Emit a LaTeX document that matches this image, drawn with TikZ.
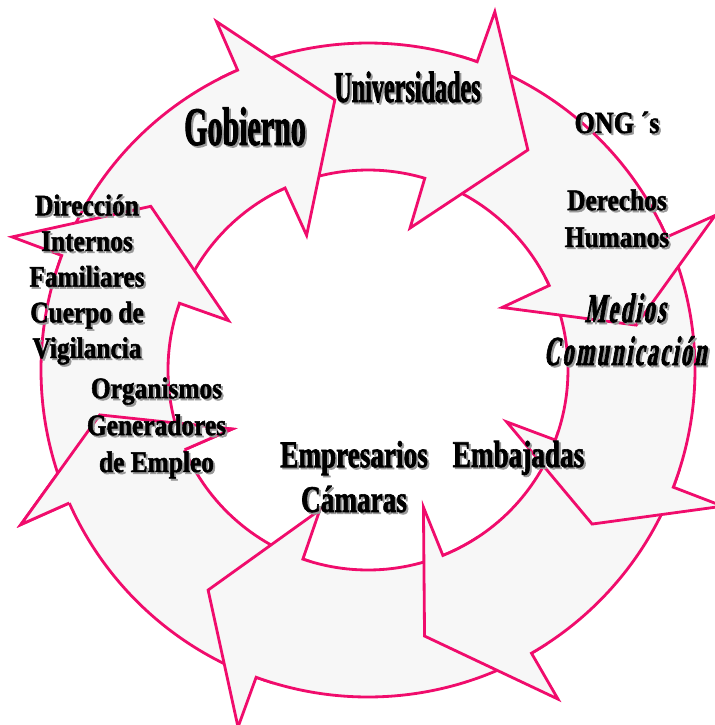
\documentclass[tikz,border=0pt]{standalone}
\usepackage{fontspec}
\setmainfont{Liberation Serif}
\newfontfamily\narrowface[FakeStretch=0.55, BoldFeatures={FakeBold=1.6}]{Liberation Serif}
\newfontfamily\midface[FakeStretch=0.72, BoldFeatures={FakeBold=1.6}]{Liberation Serif}
\newfontfamily\slantface[FakeStretch=0.53, FakeSlant=0.18, LetterSpace=6, BoldFeatures={FakeBold=1.6}]{Liberation Serif}
\newfontfamily\plainface[FakeStretch=0.85, BoldFeatures={FakeBold=1.6}]{Liberation Serif}
\usepackage{tikz}

\definecolor{ringpink}{RGB}{240,12,108}
\definecolor{ringfill}{RGB}{247,247,247}
\def\ringarrow(#1:#2:#3:#4){\draw[line width=1.6pt, draw=ringpink, fill=ringfill] (#1:327) arc[start angle=#1, end angle=#2, radius=327] -- (#2:380) -- (#4:272) -- (#3:148) -- (#3:200) arc[start angle=#3, end angle=#1, radius=200] -- cycle;}
\newcommand{\ringlabel}[4]{\node[font=#3, text=black!40, align=center, anchor=base, inner sep=0pt, xshift=1.1pt, yshift=-1.1pt] at (#2) {#4};
	\node[font=#3, align=center, anchor=base, inner sep=0pt] (#1) at (#2) {#4};}

\begin{document}
\begin{tikzpicture}[x=0.02cm, y=0.02cm]
			%%%%% START %%%%%
			\useasboundingbox (-368, -355) rectangle (347, 370);
			
			% ring, tail angle : outer base : inner base : tip
			\ringarrow(-107:-156:-156.5:-170.5)
			\ringarrow(-57:-110:-109:-126)
			\ringarrow(-18:-60:-68:-78)
			\ringarrow(27:-21:-20.5:-34.5)
			\ringarrow(73.5:24:25:9.5)
			\ringarrow(116.5:70.5:73.5:54)
			\ringarrow(162.5:113.5:114.5:97)
			\ringarrow(200:159.5:160.5:143)
			
			% last head on top of the first tail
			\fill[ringfill] (-156:327) -- (-156:380) -- (-170.5:272) -- (-156.5:148) -- (-156.5:200) -- cycle;
			\draw[line width=1.6pt, ringpink] (-156:327) -- (-156:380) -- (-170.5:272) -- (-156.5:148) -- (-156.5:200);
			
			% labels (base = last line)
			\ringlabel{gob}{-123, 225}{\fontsize{31}{31}\selectfont\bfseries\narrowface}{Gobierno}
			\ringlabel{univ}{39.5, 268}{\fontsize{25}{25}\selectfont\bfseries\narrowface}{Universidades}
			\ringlabel{ong}{249, 237}{\fontsize{17.5}{21}\selectfont\bfseries\plainface}{ONG ´s}
			\ringlabel{ddhh}{249, 123}{\fontsize{17}{21}\selectfont\bfseries\plainface}{Derechos\\Humanos}
			\ringlabel{medios}{257, 5}{\fontsize{23.5}{24.4}\selectfont\bfseries\slantface}{Medios\\Comunicación}
			\ringlabel{emb}{150.5, -97}{\fontsize{21.5}{25.5}\selectfont\bfseries\midface}{Embajadas}
			\ringlabel{emp}{-14, -142}{\fontsize{21.5}{25.5}\selectfont\bfseries\midface}{Empresarios\\Cámaras}
			\ringlabel{dir}{-281, 12}{\fontsize{17}{20.3}\selectfont\bfseries\plainface}{Dirección\\Internos\\Familiares\\Cuerpo de\\Vigilancia}
			\ringlabel{org}{-211.5, -102}{\fontsize{17}{21}\selectfont\bfseries\plainface}{Organismos\\Generadores\\de Empleo}
			
			%%%%% END %%%%%
\end{tikzpicture}
\end{document}
